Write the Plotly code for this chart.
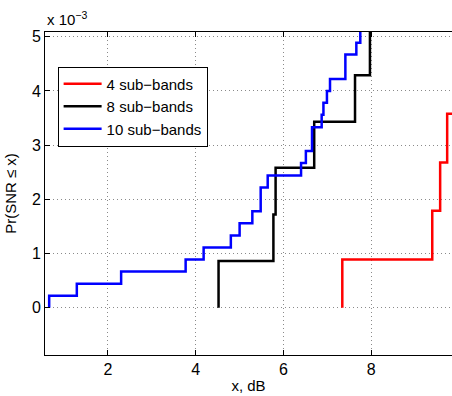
import plotly.graph_objects as go

# Empirical CDF steps (y in units of 1e-3)
x4 = [7.34, 7.34, 9.39, 9.57, 9.73, 9.90]
y4 = [0.0, 0.89, 1.79, 2.68, 3.58, 3.58]

x8 = [4.52, 4.52, 5.77, 5.82, 6.70, 7.63, 7.97]
y8 = [0.0, 0.86, 1.72, 2.58, 3.43, 4.29, 5.15]

x10 = [0.66, 0.66, 1.29, 2.30, 3.77, 4.18, 4.80, 5.00, 5.29, 5.48, 5.64,
       6.40, 6.51, 6.65, 6.87, 6.91, 6.99, 7.06, 7.41, 7.66, 7.75]
y10 = [0.0, 0.22, 0.44, 0.67, 0.89, 1.11, 1.33, 1.56, 1.78, 2.22, 2.44,
       2.67, 2.89, 3.33, 3.56, 3.78, 4.00, 4.22, 4.67, 4.89, 5.11]

names = ["4 sub\u2212bands", "8 sub\u2212bands", "10 sub\u2212bands"]
xticks = [2, 4, 6, 8]
yticks = [0, 1, 2, 3, 4, 5]

FONT = "Liberation Sans, Arial, Helvetica, sans-serif"
GRID = "#8a8a8a"

fig = go.Figure()
for xs, ys, nm, col in [(x4, y4, names[0], "#ff0000"),
                        (x8, y8, names[1], "#000000"),
                        (x10, y10, names[2], "#0000ff")]:
    fig.add_trace(go.Scatter(x=xs, y=ys, mode="lines", name=nm,
                             line=dict(color=col, width=2.5, shape="hv")))

fig.update_layout(
    width=452, height=396,
    margin=dict(l=45, r=0, t=32, b=41),
    paper_bgcolor="white", plot_bgcolor="white",
    font=dict(family=FONT, size=15, color="black"),
    showlegend=True,
    legend=dict(x=0.031, y=0.893, xanchor="left", yanchor="top",
                bordercolor="black", borderwidth=1, bgcolor="white",
                font=dict(size=15), tracegroupgap=0,
                itemwidth=38),
    xaxis=dict(range=[0.565, 9.84], tickvals=xticks, ticks="inside", ticklen=5,
               tickcolor="black", showline=True, linecolor="black", linewidth=1,
               mirror="ticks", showgrid=True, gridcolor=GRID, griddash="1px,3px",
               gridwidth=1, zeroline=False, tickfont=dict(size=16),
               title=dict(text="x, dB", standoff=3, font=dict(size=15))),
    yaxis=dict(range=[-0.873, 5.087], tickvals=yticks, ticks="inside", ticklen=5,
               tickcolor="black", showline=True, linecolor="black", linewidth=1,
               showgrid=True, gridcolor=GRID, griddash="1px,3px", gridwidth=1,
               zeroline=False, tickfont=dict(size=16),
               title=dict(text="Pr(SNR \u2264 x)", standoff=11, font=dict(size=15))),
)

fig.add_annotation(xref="paper", yref="paper", x=0, y=1, xanchor="left",
                   yanchor="bottom", yshift=2, showarrow=False,
                   text="x 10<sup>\u22123</sup>", font=dict(size=15))

fig.write_html("out.html")
